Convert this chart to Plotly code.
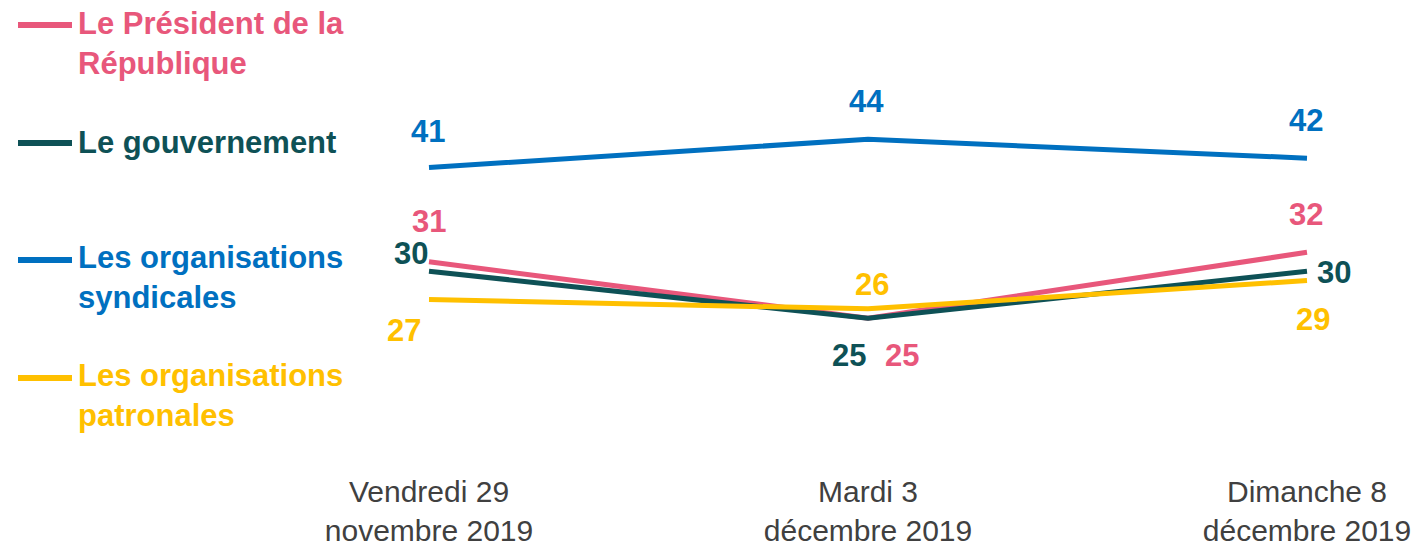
import plotly.graph_objects as go

# ---- data ----
dates = ["Vendredi 29<br>novembre 2019", "Mardi 3<br>décembre 2019", "Dimanche 8<br>décembre 2019"]
series_names = ["Le Président de la<br>République", "Le gouvernement",
                "Les organisations<br>syndicales", "Les organisations<br>patronales"]
president = [31, 25, 32]
gouvernement = [30, 25, 30]
syndicales = [41, 44, 42]
patronales = [27, 26, 29]

colors = ["#E8577B", "#0E5156", "#0070C0", "#FFC000"]
values = [president, gouvernement, syndicales, patronales]

# label offsets (pixels) per series per point
label_shifts = [
    [(0, 40), (34, -37), (-1, 38)],
    [(-18, 18), (-19, -37), (27, -1)],
    [(-1, 36), (-2, 38), (-1, 38)],
    [(-25, -31), (4, 24), (6, -39)],
]

W, H = 1418, 549
T, B = 102, 471
FONT = "Liberation Sans, Arial, sans-serif"
FS = 31
TICK_FS = 30

fig = go.Figure()
for name, vals, col in zip(series_names, values, colors):
    fig.add_trace(go.Scatter(x=dates, y=vals, mode="lines", name=name,
                             line=dict(color=col, width=5), showlegend=False,
                             hoverinfo="skip"))

annotations = []
for vals, col, shifts in zip(values, colors, label_shifts):
    for d, v, (dx, dy) in zip(dates, vals, shifts):
        annotations.append(dict(x=d, y=v, xref="x", yref="y", text=f"<b>{v}</b>",
                                showarrow=False, xshift=dx, yshift=dy,
                                xanchor="center", yanchor="middle",
                                font=dict(family=FONT, size=FS, color=col)))

def px(x):
    return x / W

def py(y):
    return (B - y) / (B - T)

# custom legend on the left (pixel positions)
legend_y = [43.6, 142.5, 277, 395.3]
line_y = [25, 143, 260, 378]
shapes = []
for name, col, ty, ly in zip(series_names, colors, legend_y, line_y):
    annotations.append(dict(x=px(76), y=py(ty), xref="paper", yref="paper",
                            text=f"<b>{name}</b>", showarrow=False, align="left",
                            xanchor="left", yanchor="middle",
                            font=dict(family=FONT, size=FS, color=col)))
    shapes.append(dict(type="line", xref="paper", yref="paper",
                       x0=px(18), x1=px(72), y0=py(ly), y1=py(ly),
                       line=dict(color=col, width=6)))

# y scale: value 44 at pixel 139.3, 9.42 px per unit
ppu = 9.42
y_top = 44 + (139.3 - T) / ppu
y_bot = y_top - (B - T) / ppu
# x scale: first category at 429 px, 439 px per category
x_left = -429 / 439
x_right = x_left + W / 439

fig.update_layout(
    width=W, height=H,
    margin=dict(l=0, r=0, t=T, b=H - B),
    paper_bgcolor="white", plot_bgcolor="white",
    annotations=annotations, shapes=shapes,
    xaxis=dict(type="category", range=[x_left, x_right], showgrid=False,
               zeroline=False, showline=False, ticks="", automargin=False,
               tickfont=dict(family=FONT, size=TICK_FS, color="#404040")),
    yaxis=dict(range=[y_bot, y_top], visible=False, showgrid=False,
               zeroline=False, automargin=False),
    font=dict(family=FONT),
)

fig.write_html("out.html", config={"displayModeBar": False},
               post_script="document.body.style.margin='0';document.body.style.overflow='hidden';")
